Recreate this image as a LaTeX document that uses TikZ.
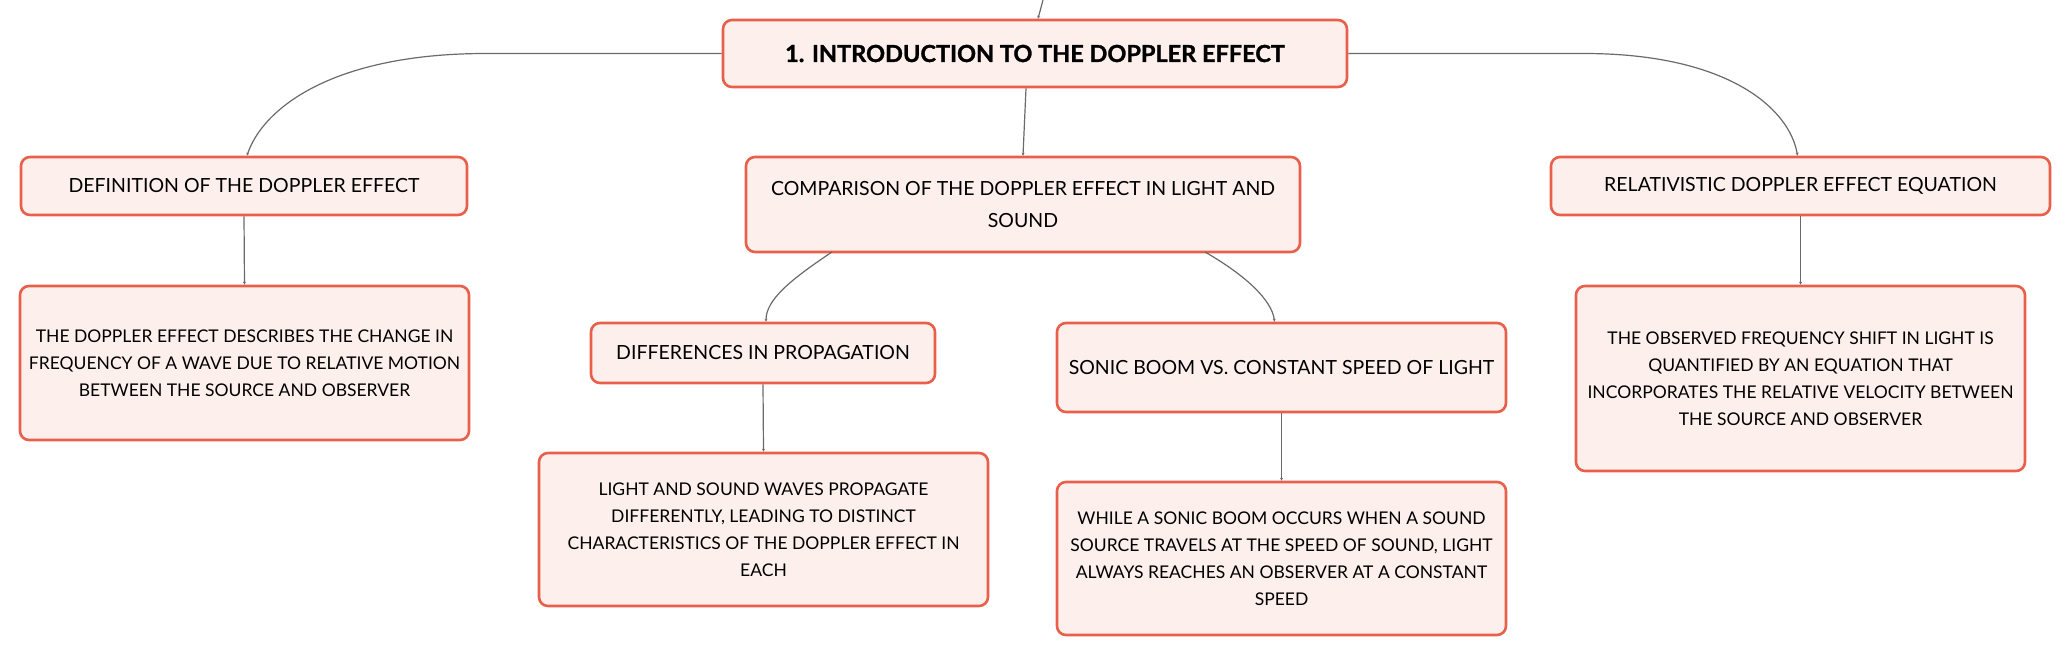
\documentclass[tikz,border=0pt]{standalone}
\usepackage{fontspec}
\setmainfont{Lato}
\newfontfamily\titlefont{Lato}[BoldFeatures={FakeBold=1.2}]
\usetikzlibrary{arrows.meta}
\definecolor{bordr}{HTML}{E8604C}
\definecolor{fillc}{HTML}{FDEFEB}
\definecolor{linec}{HTML}{6A6A6A}
\begin{document}
\begin{tikzpicture}[x=1pt,y=-1pt,
  box/.style={draw=bordr, line width=2.6pt, fill=fillc, rounded corners=9pt,
    align=center, inner sep=0pt, text=black},
  headbox/.style={box, font=\fontsize{19.5}{32}\selectfont},
  descbox/.style={box, font=\fontsize{17.5}{27}\selectfont},
  conn/.style={draw=linec, line width=1.2pt, -{Stealth[length=3pt,width=3pt]}}]
\useasboundingbox (0,0) rectangle (2070,656);

\node[box, font=\titlefont\fontsize{23.5}{28}\selectfont\bfseries, minimum width=624, minimum height=67] (main) at (1035,53.5) {1. INTRODUCTION TO THE DOPPLER EFFECT};

\node[headbox, minimum width=446, minimum height=58] (def) at (244,186) {DEFINITION OF THE DOPPLER EFFECT};
\node[descbox, minimum width=449, minimum height=154] (defd) at (244.5,363) {THE DOPPLER EFFECT DESCRIBES THE CHANGE IN\\FREQUENCY OF A WAVE DUE TO RELATIVE MOTION\\BETWEEN THE SOURCE AND OBSERVER};

\node[headbox, minimum width=554, minimum height=95] (comp) at (1023,204.5) {COMPARISON OF THE DOPPLER EFFECT IN LIGHT AND\\SOUND};

\node[headbox, minimum width=344, minimum height=60] (diff) at (763,353) {DIFFERENCES IN PROPAGATION};
\node[descbox, minimum width=449, minimum height=153] (diffd) at (763.5,529.5) {LIGHT AND SOUND WAVES PROPAGATE\\DIFFERENTLY, LEADING TO DISTINCT\\CHARACTERISTICS OF THE DOPPLER EFFECT IN\\EACH};

\node[headbox, minimum width=449, minimum height=89] (sonic) at (1281.5,367.5) {SONIC BOOM VS. CONSTANT SPEED OF LIGHT};
\node[descbox, minimum width=449, minimum height=153] (sonicd) at (1281.5,558.5) {WHILE A SONIC BOOM OCCURS WHEN A SOUND\\SOURCE TRAVELS AT THE SPEED OF SOUND, LIGHT\\ALWAYS REACHES AN OBSERVER AT A CONSTANT\\SPEED};

\node[headbox, minimum width=499, minimum height=58] (rel) at (1800.5,186) {RELATIVISTIC DOPPLER EFFECT EQUATION};
\node[descbox, minimum width=449, minimum height=185] (reld) at (1800.5,378.5) {THE OBSERVED FREQUENCY SHIFT IN LIGHT IS\\QUANTIFIED BY AN EQUATION THAT\\INCORPORATES THE RELATIVE VELOCITY BETWEEN\\THE SOURCE AND OBSERVER};

\coordinate (top) at (1043,0);
\draw[conn] (top) -- ([xshift=3pt]main.north);
\draw[conn] ([xshift=-9pt]main.south) -- (comp.north);
\draw[conn] (main.west) -- (486,53.5) .. controls (330,53.5) and (262,110) .. ([xshift=3pt]def.north);
\draw[conn] (main.east) -- (1584,53.5) .. controls (1730,53.5) and (1790,110) .. ([xshift=-3pt]rel.north);
\draw[conn] (832,252) .. controls (790,280) and (766,300) .. ([xshift=3pt]diff.north);
\draw[conn] (1205,252) .. controls (1245,275) and (1272,300) .. ([xshift=-7pt]sonic.north);
\draw[conn] (def.south) -- (defd.north);
\draw[conn] (diff.south) -- (diffd.north);
\draw[conn] (sonic.south) -- (sonicd.north);
\draw[conn] (rel.south) -- (reld.north);
\end{tikzpicture}
\end{document}
